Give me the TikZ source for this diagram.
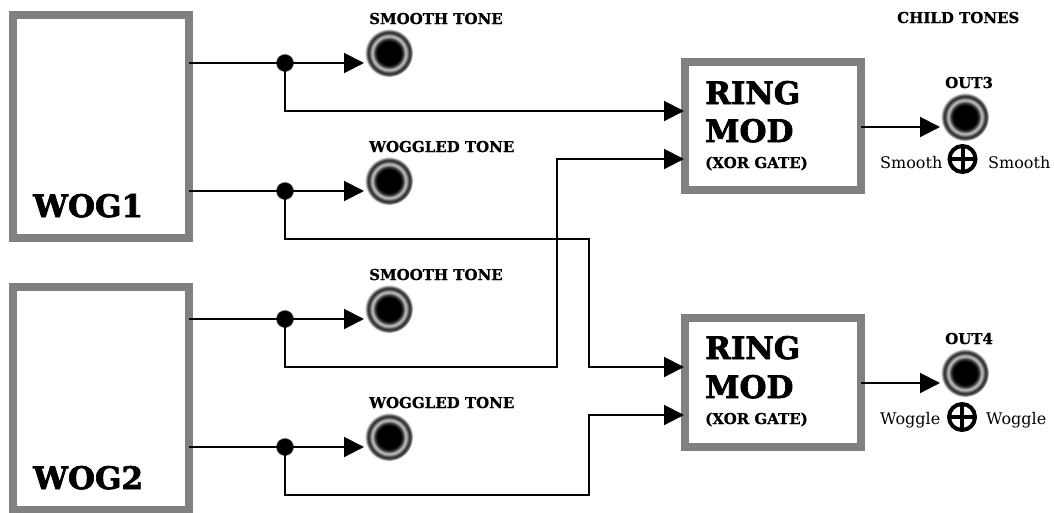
\documentclass[tikz,border=0pt]{standalone}
\usepackage{fontspec}
\setmainfont{DejaVu Serif}
\newfontfamily\heavyfont[FakeBold=2.2]{DejaVu Serif Bold}
\newfontfamily\midfont[FakeBold=0.8]{DejaVu Serif Bold}
\usetikzlibrary{arrows.meta}
\definecolor{boxgray}{RGB}{128,128,128}
\pgfdeclareradialshading{jackshade}{\pgfpoint{0bp}{0bp}}{
  rgb(0bp)=(0,0,0);
  rgb(12.5bp)=(0,0,0);
  rgb(15bp)=(0.3,0.3,0.3);
  rgb(17.5bp)=(0.8,0.8,0.8);
  rgb(19.5bp)=(0.45,0.45,0.45);
  rgb(21.5bp)=(0.15,0.15,0.15);
  rgb(23.5bp)=(0.5,0.5,0.5);
  rgb(25bp)=(0.95,0.95,0.95);
  rgb(50bp)=(1,1,1)}
\tikzset{
  x=1pt,y=-1pt,
  bigbox/.style={draw=boxgray,line width=8pt,fill=white,minimum width=176pt,minimum height=223pt,inner sep=0pt,anchor=north west},
  modbox/.style={draw=boxgray,line width=8pt,fill=white,minimum width=175.5pt,minimum height=128pt,inner sep=0pt,anchor=north west},
  jack/.style={circle,inner sep=0pt,minimum size=48pt,shading=jackshade},
  dotn/.style={circle,fill=black,draw=black!70,line width=0.5pt,minimum size=17pt,inner sep=0pt},
  conn/.style={line width=2pt,line join=miter},
  arr/.style={conn,-{Triangle[length=20pt,width=20pt]}},
  small/.style={font=\fontsize{15pt}{17pt}\selectfont\midfont,inner sep=0pt,anchor=base west},
  plain/.style={font=\fontsize{16pt}{18pt}\selectfont,inner sep=0pt,anchor=base west},
  bigt/.style={font=\fontsize{31pt}{34pt}\selectfont\heavyfont,inner sep=0pt,anchor=base west},
  xorn/.style={circle,draw=black,line width=4pt,minimum size=26pt,inner sep=0pt,
    path picture={
      \draw[line width=4pt] (path picture bounding box.north) -- (path picture bounding box.south);
      \draw[line width=4pt] (path picture bounding box.west) -- (path picture bounding box.east);
    }},
}
\begin{document}
\begin{tikzpicture}
\useasboundingbox (0,0) rectangle (1054,512);
% boxes
\node[bigbox] (w1) at (9,11) {};
\node[bigbox] (w2) at (9,283) {};
\node[modbox] (r1) at (681,58) {};
\node[modbox,minimum height=129pt] (r2) at (681,314) {};
\node[bigt] (w1t) at (33,217) {WOG1};
\node[bigt] (w2t) at (33,489) {WOG2};
\node[bigt] (r1a) at (705,104) {RING};
\node[bigt] (r1b) at (705,142) {MOD};
\node[small] (r1c) at (705,168) {(XOR GATE)};
\node[bigt] (r2a) at (705,359) {RING};
\node[bigt] (r2b) at (705,398) {MOD};
\node[small] (r2c) at (705,424) {(XOR GATE)};
% jacks
\node[jack] (j1) at (389,53) {};
\node[jack] (j2) at (389,181) {};
\node[jack] (j3) at (389,309) {};
\node[jack] (j4) at (389,437) {};
\node[jack] (j5) at (965,117) {};
\node[jack] (j6) at (965,373) {};
% labels
\node[small] (l1) at (369,24) {SMOOTH TONE};
\node[small] (l2) at (369,152) {WOGGLED TONE};
\node[small] (l3) at (369,280) {SMOOTH TONE};
\node[small] (l4) at (369,408) {WOGGLED TONE};
\node[small] (l5) at (897,23) {CHILD TONES};
\node[small] (l6) at (945,88) {OUT3};
\node[small] (l7) at (945,344) {OUT4};
\node[plain] (s1) at (880,168) {Smooth};
\node[plain] (s2) at (988,168) {Smooth};
\node[plain] (s3) at (880,424) {Woggle};
\node[plain] (s4) at (986,424) {Woggle};
\node[xorn] (x1) at (962.5,159) {};
\node[xorn] (x2) at (962,417) {};
% junctions
\node[dotn] (d1) at (285,63) {};
\node[dotn] (d2) at (285,191) {};
\node[dotn] (d3) at (285,319) {};
\node[dotn] (d4) at (285,447) {};
% ends
\coordinate (s1o) at (189,63);
\coordinate (s2o) at (189,191);
\coordinate (s3o) at (189,319);
\coordinate (s4o) at (189,447);
\coordinate (e1) at (364,63);
\coordinate (e2) at (364,191);
\coordinate (e3) at (364,319);
\coordinate (e4) at (364,447);
\coordinate (a1) at (684,111);
\coordinate (b1) at (684,159);
\coordinate (a2) at (684,367);
\coordinate (b2) at (684,415);
\coordinate (o1s) at (861,127);
\coordinate (o2s) at (861,383);
\coordinate (o1e) at (940,127);
\coordinate (o2e) at (940,383);
% connectors
\draw[arr] (s1o) -- (e1);
\draw[arr] (s2o) -- (e2);
\draw[arr] (s3o) -- (e3);
\draw[arr] (s4o) -- (e4);
\draw[arr] (d1.center) |- (a1);
\draw[arr] (d2.center) -- (285,239) -| (589,367) -- (a2);
\draw[arr] (d3.center) -- (285,367) -| (557,159) -- (b1);
\draw[arr] (d4.center) -- (285,495) -| (589,415) -- (b2);
\draw[arr] (o1s) -- (o1e);
\draw[arr] (o2s) -- (o2e);
\end{tikzpicture}
\end{document}
